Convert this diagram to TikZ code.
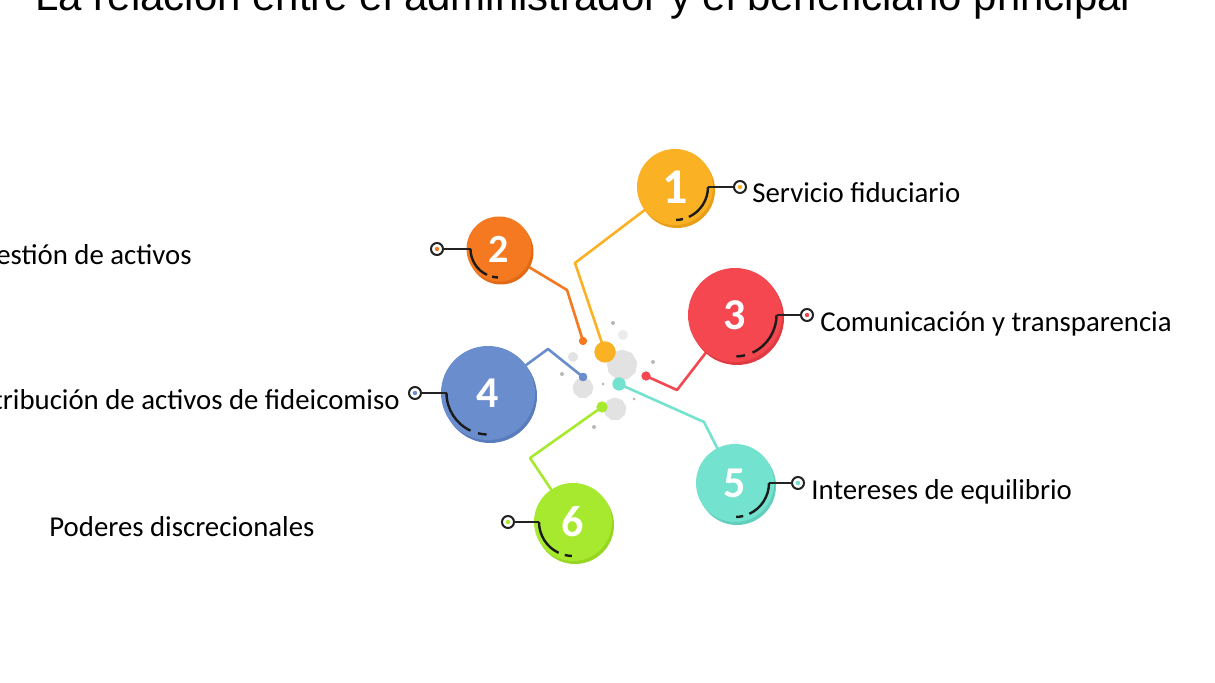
\documentclass[tikz,border=0pt]{standalone}
\usepackage{fontspec}
\setmainfont{Carlito}
\newfontfamily\titlefont{Liberation Sans}
\usetikzlibrary{shapes.geometric,calc}
\definecolor{c1}{HTML}{FBB124}\definecolor{c1d}{HTML}{E99E18}
\definecolor{c2}{HTML}{F47920}\definecolor{c2d}{HTML}{E06A15}
\definecolor{c3}{HTML}{F4474F}\definecolor{c3d}{HTML}{E03A42}
\definecolor{c4}{HTML}{6A8DCD}\definecolor{c4d}{HTML}{5A7CBC}
\definecolor{c5}{HTML}{73E2CF}\definecolor{c5d}{HTML}{62CFBC}
\definecolor{c6}{HTML}{A7E92F}\definecolor{c6d}{HTML}{96D620}
\definecolor{leadc}{HTML}{222222}
\definecolor{blobc}{HTML}{E2E2E2}
\definecolor{dotc}{HTML}{B8B8B8}
\tikzset{
  bubble/.style={circle, inner sep=0pt, minimum size=#1},
  num/.style={text=white, font=\bfseries\fontsize{22}{22}\selectfont},
  conn/.style={line width=1.3pt, line join=round, line cap=round},
  lead/.style={draw=leadc, line width=1pt},
  arcln/.style={draw=leadc!80!black, line width=1.2pt},
  ring/.style={circle, draw=leadc, fill=white, line width=1pt, minimum size=6pt, inner sep=0pt},
  lbl/.style={font=\fontsize{14.4}{16}\selectfont, text=black, inner sep=0pt},
  blob/.style={regular polygon, regular polygon sides=9, fill=blobc, inner sep=0pt, minimum size=#1},
  tiny/.style={circle, fill=dotc, inner sep=0pt, minimum size=#1},
}
\begin{document}
\begin{tikzpicture}[x=0.5pt,y=-0.5pt]
\useasboundingbox (0,0) rectangle (1215,683);
\clip (0,0) rectangle (1215,683);
\fill[white] (0,0) rectangle (1215,683);

% title
\node[anchor=base west, inner sep=0pt, font=\titlefont\fontsize{21}{21}\selectfont] (title) at (35,11) {La relación entre el administrador y el beneficiario principal};

% gray blobs
\node[blob=15.5pt] (b1) at (622,365) {};
\node[blob=10.5pt] (b2) at (583,388) {};
\node[blob=11.5pt] (b3) at (615,409) {};
\node[blob=5pt] (b4) at (573,357) {};
\node[blob=5pt, fill=blobc!70] (b5) at (623,335) {};
\node[tiny=2pt] (t1) at (613,323) {};
\node[tiny=2pt] (t2) at (653,362) {};
\node[tiny=2pt] (t3) at (562,374) {};
\node[tiny=1.5pt] (t4) at (603,384) {};
\node[tiny=1.5pt] (t5) at (634,399) {};
\node[tiny=2pt] (t6) at (594,427) {};

% central dots
\node[bubble=10.5pt, fill=c1] (d1) at (605,352) {};
\node[bubble=4pt, fill=c2] (d2) at (583,341) {};
\node[bubble=4.5pt, fill=c3] (d3) at (646,376) {};
\node[bubble=4.2pt, fill=c4] (d4) at (583,377) {};
\node[bubble=6.5pt, fill=c5] (d5) at (619,384) {};
\node[bubble=5.5pt, fill=c6] (d6) at (602,407) {};

% bends
\coordinate (k1) at (575,263);
\coordinate (k2) at (567,290);
\coordinate (k3) at (677,390);
\coordinate (k4) at (548,349);
\coordinate (k5) at (704,422);
\coordinate (k6) at (530,458);

% big circles (positions)
\coordinate (p1) at (675,187);
\coordinate (p2) at (499,249);
\coordinate (p3) at (735,315);
\coordinate (p4) at (488,393);
\coordinate (p5) at (735,483);
\coordinate (p6) at (573,522);

% connectors
\draw[conn, draw=c1] (d1.center) -- (k1) -- (p1);
\draw[conn, draw=c2] (d2.center) -- (k2) -- (p2);
\draw[conn, draw=c3] (d3.center) -- (k3) -- (p3);
\draw[conn, draw=c4] (d4.center) -- (k4) -- (p4);
\draw[conn, draw=c5] (d5.center) -- (k5) -- (p5);
\draw[conn, draw=c6] (d6.center) -- (k6) -- (p6);

% redraw dots on top of connectors
\fill[c1] (d1) circle[radius=10.5];
\fill[c2] (d2) circle[radius=4];
\fill[c3] (d3) circle[radius=4.5];
\fill[c4] (d4) circle[radius=4.2];
\fill[c5] (d5) circle[radius=6.5];
\fill[c6] (d6) circle[radius=5.5];

% circles with shadow
\node[bubble=38pt, fill=c1d] (s1) at ($(p1)+(2,3)$) {};
\node[bubble=38pt, fill=c1, num, font=\bfseries\fontsize{25}{25}\selectfont] (c1) at (p1) {1};
\node[bubble=32.5pt, fill=c2d] (s2) at ($(p2)+(2,3)$) {};
\node[bubble=32.5pt, fill=c2, num, font=\bfseries\fontsize{20}{20}\selectfont] (c2) at (p2) {2};
\node[bubble=47pt, fill=c3d] (s3) at ($(p3)+(2,3)$) {};
\node[bubble=47pt, fill=c3, num] (c3) at (p3) {3};
\node[bubble=47pt, fill=c4d] (s4) at ($(p4)+(2,3)$) {};
\node[bubble=47pt, fill=c4, num] (c4) at (p4) {4};
\node[bubble=39pt, fill=c5d] (s5) at ($(p5)+(2,3)$) {};
\node[bubble=39pt, fill=c5, num] (c5) at (p5) {5};
\node[bubble=39pt, fill=c6d] (s6) at ($(p6)+(2,3)$) {};
\node[bubble=39pt, fill=c6, num] (c6) at (p6) {6};

% rings
\node[ring] (r1) at (740,187) {}; \fill[c1] (r1) circle[radius=2.2];
\node[ring] (r2) at (437,249) {}; \fill[c2] (r2) circle[radius=2.2];
\node[ring] (r3) at (807,315) {}; \fill[c3] (r3) circle[radius=2.2];
\node[ring] (r4) at (415,393) {}; \fill[c4] (r4) circle[radius=2.2];
\node[ring] (r5) at (798,483) {}; \fill[c5] (r5) circle[radius=2.2];
\node[ring] (r6) at (508,522) {}; \fill[c6] (r6) circle[radius=2.2];

% leaders: right side
\draw[lead] (r1.west) -- ($(c1.center)+(33,0)$);
\draw[arcln] ($(c1.center)+(33,0)$) arc[start angle=0, end angle=65, radius=33];
\draw[arcln] ($(c1.center)+(76:33)$) arc[start angle=76, end angle=88, radius=33];

\draw[lead] (r3.west) -- ($(c3.center)+(41.5,0)$);
\draw[arcln] ($(c3.center)+(41.5,0)$) arc[start angle=0, end angle=65, radius=41.5];
\draw[arcln] ($(c3.center)+(76:41.5)$) arc[start angle=76, end angle=88, radius=41.5];

\draw[lead] (r5.west) -- ($(c5.center)+(34,0)$);
\draw[arcln] ($(c5.center)+(34,0)$) arc[start angle=0, end angle=65, radius=34];
\draw[arcln] ($(c5.center)+(76:34)$) arc[start angle=76, end angle=88, radius=34];

% leaders: left side
\draw[lead] (r2.east) -- ($(c2.center)+(-28.5,0)$);
\draw[arcln] ($(c2.center)+(-28.5,0)$) arc[start angle=180, end angle=115, radius=28.5];
\draw[arcln] ($(c2.center)+(104:28.5)$) arc[start angle=104, end angle=92, radius=28.5];

\draw[lead] (r4.east) -- ($(c4.center)+(-41.5,0)$);
\draw[arcln] ($(c4.center)+(-41.5,0)$) arc[start angle=180, end angle=115, radius=41.5];
\draw[arcln] ($(c4.center)+(104:41.5)$) arc[start angle=104, end angle=92, radius=41.5];

\draw[lead] (r6.east) -- ($(c6.center)+(-34,0)$);
\draw[arcln] ($(c6.center)+(-34,0)$) arc[start angle=180, end angle=115, radius=34];
\draw[arcln] ($(c6.center)+(104:34)$) arc[start angle=104, end angle=92, radius=34];

% labels
\node[lbl, anchor=base west] (l1) at (752,203) {Servicio fiduciario};
\node[lbl, anchor=base west] (l3) at (820,332) {Comunicación y transparencia};
\node[lbl, anchor=base west] (l5) at (811,500) {Intereses de equilibrio};
\node[lbl, anchor=base east] (l2) at (192,265) {Gestión de activos};
\node[lbl, anchor=base east] (l4) at (400,410) {Distribución de activos de fideicomiso};
\node[lbl, anchor=base west] (l6) at (49,537) {Poderes discrecionales};
\end{tikzpicture}
\end{document}
